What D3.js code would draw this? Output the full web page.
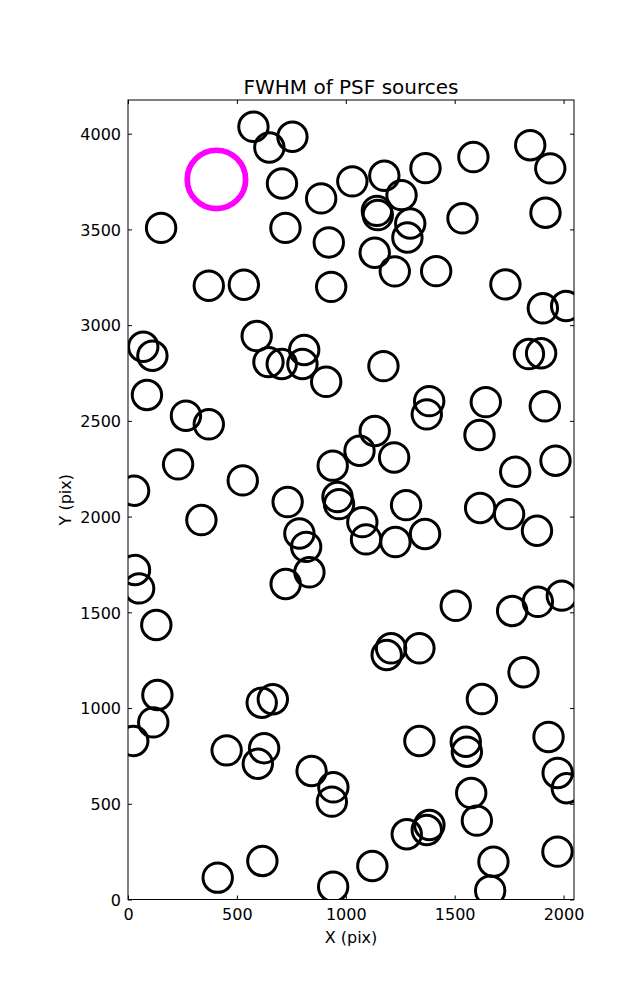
<!DOCTYPE html>
<html><head><meta charset="utf-8">
<script src="https://cdn.jsdelivr.net/npm/d3@7"></script>
<style>body{margin:0;background:#fff;} svg{display:block;font-family:"DejaVu Sans",sans-serif;}</style>
</head><body>
<script>
// Source positions (pixel coordinates of the detector)
const srcX = [576,649,755,707,152,723,887,1030,1177,1256,1366,1586,1847,1939,1917,1143,1147,1296,1283,1536,
922,1133,1225,1415,371,532,933,1733,1905,2012,70,112,591,809,645,706,801,910,1173,1841,
1897,87,266,371,1383,1372,1643,1914,1133,1614,1063,1222,940,230,1778,1963,527,28,733,962,
969,1277,1617,1750,337,1076,787,818,1093,1228,1364,1878,32,51,833,724,1505,1764,1882,1992,
130,1208,1188,1338,1816,135,116,614,665,1625,24,453,625,596,1338,1551,1556,1931,843,943,
936,1576,1602,1973,2015,1384,1372,1280,1678,1972,412,617,1122,942,1663];
const srcY = [4036,3928,3984,3740,3508,3508,3662,3751,3780,3679,3820,3878,3940,3819,3587,3597,3575,3531,3458,3558,
3432,3378,3281,3282,3206,3211,3200,3213,3088,3100,2887,2840,2943,2870,2807,2797,2797,2704,2786,2849,
2853,2635,2527,2482,2603,2534,2598,2576,2447,2426,2344,2309,2266,2273,2234,2292,2189,2135,2076,2102,
2065,2060,2045,2013,1982,1971,1912,1842,1881,1867,1909,1926,1721,1625,1709,1648,1534,1507,1555,1587,
1434,1312,1277,1312,1187,1068,925,1028,1046,1047,828,779,790,709,828,824,772,849,671,586,
511,556,412,661,581,389,363,341,197,250,114,201,175,67,46];
// Highlighted (reference) source
const refX = [406];
const refY = [3761];
const xTicks = [0,500,1000,1500,2000];
const yTicks = [0,500,1000,1500,2000,2500,3000,3500,4000];
const xDomain = [0,2048];
const yDomain = [0,4176];

const W = 637, H = 1000;
const L = 128, R = 574, T = 100, B = 899.5;
const svg = d3.select("body").append("svg").attr("width",W).attr("height",H);
const x = d3.scaleLinear().domain(xDomain).range([L,R]);
const y = d3.scaleLinear().domain(yDomain).range([B,T]);

svg.append("defs").append("clipPath").attr("id","clip")
  .append("rect").attr("x",L).attr("y",T).attr("width",R-L).attr("height",B-T);

const g = svg.append("g").attr("clip-path","url(#clip)");
g.selectAll("circle.src").data(d3.range(srcX.length)).join("circle")
  .attr("class","src")
  .attr("cx",i=>x(srcX[i])).attr("cy",i=>y(srcY[i]))
  .attr("r",14.7).attr("fill","none").attr("stroke","#000").attr("stroke-width",3);
g.selectAll("circle.ref").data(d3.range(refX.length)).join("circle")
  .attr("class","ref")
  .attr("cx",i=>x(refX[i])).attr("cy",i=>y(refY[i]))
  .attr("r",29.2).attr("fill","none").attr("stroke","#ff00ff").attr("stroke-width",5.7);

// axes (ticks inward, on all sides)
const fs = 16;
const fmt = d3.format("d");
const axB = svg.append("g").attr("transform",`translate(0,${B})`)
  .call(d3.axisBottom(x).tickValues(xTicks).tickSize(-4).tickFormat(fmt));
const axT = svg.append("g").attr("transform",`translate(0,${T})`)
  .call(d3.axisTop(x).tickValues(xTicks).tickSize(-4).tickFormat(""));
const axL = svg.append("g").attr("transform",`translate(${L},0)`)
  .call(d3.axisLeft(y).tickValues(yTicks).tickSize(-4).tickPadding(7).tickFormat(fmt));
const axR = svg.append("g").attr("transform",`translate(${R},0)`)
  .call(d3.axisRight(y).tickValues(yTicks).tickSize(-4).tickFormat(""));
[axB,axT,axL,axR].forEach(a=>{
  a.select(".domain").remove();
  a.selectAll("line").attr("stroke","#000").attr("stroke-width",1);
  a.selectAll("text").attr("font-size",fs).attr("fill","#000").attr("font-family","DejaVu Sans");
});
axB.selectAll("text").attr("y",20).attr("dy",null);
axL.selectAll("text").attr("dy","0.36em");

svg.append("rect").attr("x",L).attr("y",T).attr("width",R-L).attr("height",B-T)
  .attr("fill","none").attr("stroke","#000").attr("stroke-width",1);

svg.append("text").attr("x",(L+R)/2).attr("y",94).attr("text-anchor","middle")
  .attr("font-size",20).text("FWHM of PSF sources");
svg.append("text").attr("x",(L+R)/2).attr("y",943).attr("text-anchor","middle")
  .attr("font-size",fs).text("X (pix)");
svg.append("text").attr("transform",`translate(71,${(T+B)/2}) rotate(-90)`).attr("text-anchor","middle")
  .attr("font-size",fs).text("Y (pix)");
</script>
</body></html>
